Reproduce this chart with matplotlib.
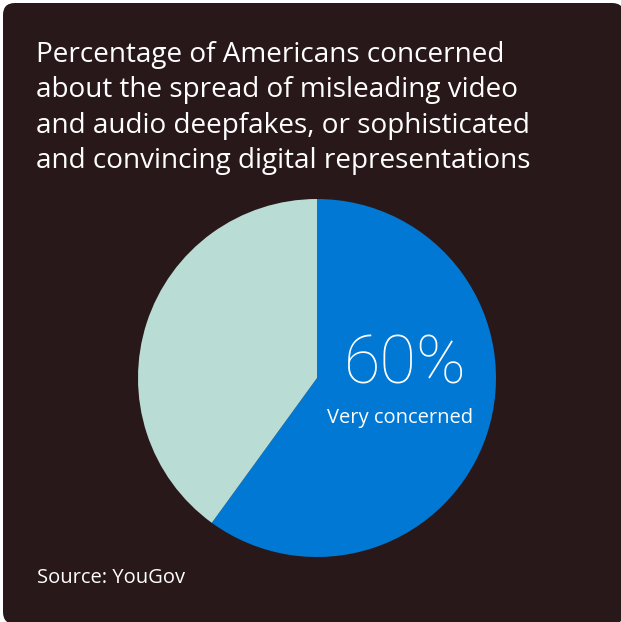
import matplotlib
matplotlib.use("Agg")
import matplotlib.pyplot as plt
from matplotlib.patches import FancyBboxPatch

title_lines = [
    "Percentage of Americans concerned",
    "about the spread of misleading video",
    "and audio deepfakes, or sophisticated",
    "and convincing digital representations",
]
categories = ["Very concerned", "Other"]
values = [60, 40]
colors = ["#0078d4", "#b9ddd4"]
source = "Source: YouGov"

W, H = 621, 622
fig = plt.figure(figsize=(W / 100, H / 100), dpi=100)
fig.patch.set_facecolor("white")

bg = fig.add_axes([0, 0, 1, 1])
bg.set_xlim(0, W)
bg.set_ylim(H, 0)
bg.axis("off")
bg.add_patch(FancyBboxPatch((3 + 12, 3 + 12), 621 - 24, 621 - 24,
                            boxstyle="round,pad=12", fc="#291819", ec="none"))

font = "Open Sans"
for i, line in enumerate(title_lines):
    bg.text(36, 62 + i * 35.3, line, color="white", fontsize=20.1,
            family=font, va="baseline", ha="left")

bg.text(37, 583, source, color="white", fontsize=14.5, family=font,
        va="baseline", ha="left")

cx, cy, r = 317, 378, 179
pax = fig.add_axes([(cx - r) / W, (H - cy - r) / H, 2 * r / W, 2 * r / H])
pax.pie(values, colors=colors, startangle=90, counterclock=False,
        wedgeprops=dict(linewidth=0))
pax.set_xlim(-1, 1)
pax.set_ylim(-1, 1)
pax.axis("off")

txt = fig.add_axes([0, 0, 1, 1])
txt.set_xlim(0, W)
txt.set_ylim(H, 0)
txt.axis("off")
txt.text(405, 384, f"{values[0]}%", color="white", fontsize=48,
         family=["Roboto", "Open Sans"],
         fontweight="light", ha="center", va="baseline")
txt.text(400, 423, categories[0], color="white", fontsize=14.5, family=font,
         ha="center", va="baseline")

fig.savefig("out.png", dpi=100, facecolor="white")
